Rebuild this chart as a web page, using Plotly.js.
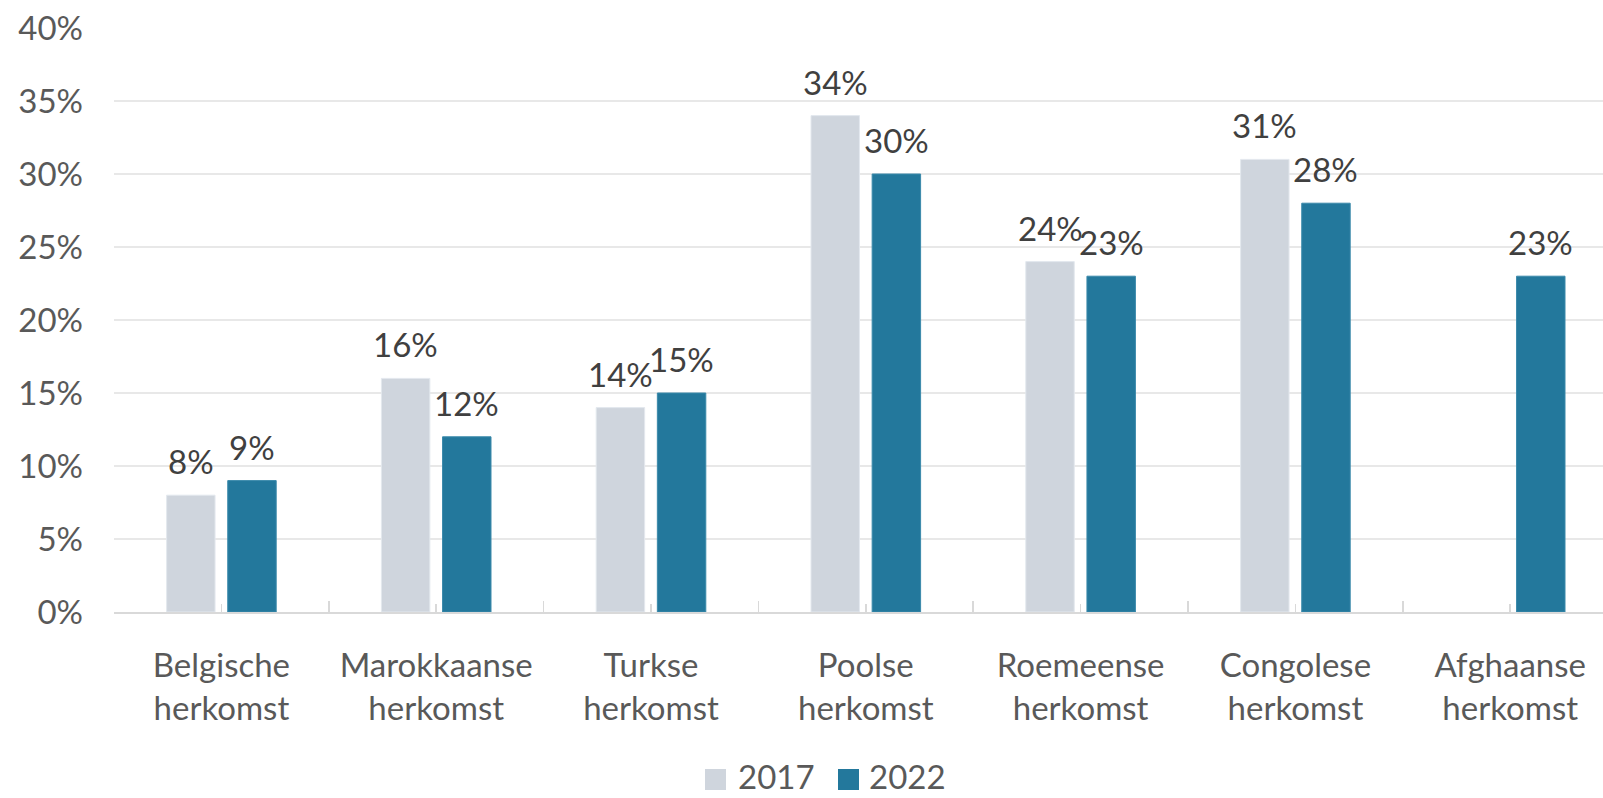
<!DOCTYPE html>
<html>
<head>
<meta charset="utf-8">
<script src="https://cdn.plot.ly/plotly-3.0.1.min.js"></script>
<style>html,body{margin:0;padding:0;background:#fff;}#chart{width:1603px;height:798px;}</style>
</head>
<body>
<div id="chart"></div>
<script>
// ---- data ----
const categories = ["Belgische herkomst", "Marokkaanse herkomst", "Turkse herkomst", "Poolse herkomst", "Roemeense herkomst", "Congolese herkomst", "Afghaanse herkomst"];
const seriesNames = ["2017", "2022"];
const values2017 = [8, 16, 14, 34, 24, 31, null];
const values2022 = [9, 12, 15, 30, 23, 28, 23];
const yTickVals = [0, 5, 10, 15, 20, 25, 30, 35, 40];
const yTickText = ["0%", "5%", "10%", "15%", "20%", "25%", "30%", "35%", "40%"];

// ---- style ----
const colors = ["#CFD5DD", "#23789C"];
const FONT = "Lato, 'Open Sans', sans-serif";
const axisColor = "#595959";
const labelColor = "#404040";

const ticktext = categories.map(c => c.replace(" ", "<br>"));
const series = [values2017, values2022];

const bargap = 0.4306, bargroupgap = 0.2077;
const slot = (1 - bargap) / 2;

const traces = series.map((vals, s) => ({
  type: "bar",
  name: seriesNames[s],
  x: categories,
  y: vals,
  marker: {color: colors[s], line: {color: s === 0 ? "#E3E8EE" : "#3A89AA", width: 1}},
  hoverinfo: "x+y",
  showlegend: false
}));
// dummy trace to carry the secondary axis (minor ticks at category centres)
traces.push({type: "scatter", x: categories, y: categories.map(() => null), xaxis: "x2", yaxis: "y", hoverinfo: "skip", showlegend: false, mode: "markers"});

const annotations = [];
series.forEach((vals, s) => {
  vals.forEach((v, i) => {
    if (v === null) return;
    annotations.push({
      x: i + (s === 0 ? -1 : 1) * slot / 2,
      y: v, xref: "x", yref: "y",
      text: v + "%", showarrow: false,
      xanchor: "center", yanchor: "bottom", yshift: 12,
      font: {family: FONT, size: 33, color: labelColor}
    });
  });
});

// custom legend (large square swatches)
const W = 1603, H = 798, ML = 114, MT = 28, MB = 186;
const pw = W - ML, ph = H - MT - MB;
const px = x => (x - ML) / pw;
const py = y => (H - MB - y) / ph;
const legendItems = [{sx: 705, tx: 737}, {sx: 838, tx: 868}];
const shapes = [];
legendItems.forEach((it, s) => {
  shapes.push({type: "rect", xref: "paper", yref: "paper",
    x0: px(it.sx), x1: px(it.sx + 21), y0: py(790), y1: py(769),
    fillcolor: colors[s], line: {width: 0}});
  annotations.push({xref: "paper", yref: "paper", x: px(it.tx), y: py(797),
    xanchor: "left", yanchor: "bottom", borderpad: 0, showarrow: false, text: seriesNames[s],
    font: {family: FONT, size: 33, color: axisColor}});
});

const catWidthPx = 214.8;
const layout = {
  width: W, height: H,
  margin: {l: ML, r: 0, t: MT, b: MB, pad: 0},
  paper_bgcolor: "#ffffff", plot_bgcolor: "#ffffff",
  barmode: "group", bargap: bargap, bargroupgap: bargroupgap,
  showlegend: false,
  font: {family: FONT, size: 33, color: axisColor},
  xaxis: {
    type: "category",
    range: [-0.5, -0.5 + pw / catWidthPx],
    tickmode: "array", tickvals: categories, ticktext: ticktext,
    tickson: "boundaries", ticks: "inside", ticklen: 11, tickwidth: 1.5, tickcolor: "#D9D9D9",
    showline: true, linecolor: "#D9D9D9", linewidth: 1.5,
    showgrid: false, zeroline: false,
    ticklabelstandoff: 24,
    tickfont: {family: FONT, size: 33, color: axisColor},
    fixedrange: true
  },
  xaxis2: {
    type: "category", overlaying: "x", matches: "x", anchor: "y", side: "bottom",
    tickmode: "array", tickvals: categories,
    ticks: "inside", ticklen: 8, tickwidth: 1.5, tickcolor: "#D9D9D9",
    showticklabels: false, showgrid: false, showline: false, zeroline: false
  },
  yaxis: {
    range: [0, 40],
    tickmode: "array", tickvals: yTickVals, ticktext: yTickText,
    showgrid: true, gridcolor: "#E8E8E8", gridwidth: 1.5,
    zeroline: false, showline: false, ticks: "",
    ticklabelstandoff: 30,
    tickfont: {family: FONT, size: 33, color: axisColor},
    fixedrange: true
  },
  annotations: annotations,
  shapes: shapes
};

Plotly.newPlot("chart", traces, layout, {staticPlot: true, displayModeBar: false});
</script>
</body>
</html>
